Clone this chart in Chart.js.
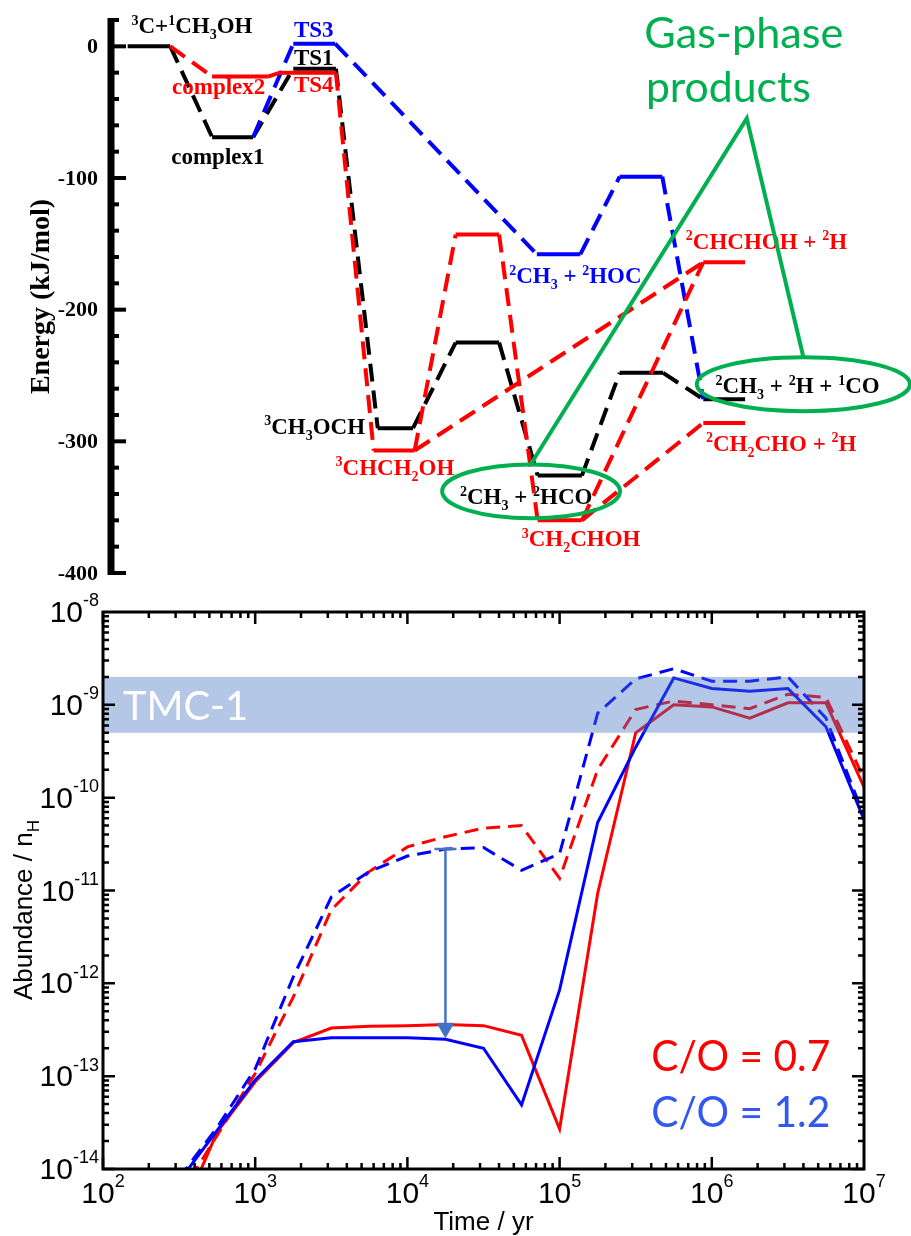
<!DOCTYPE html>
<html>
<head>
<meta charset="utf-8">
<script src="https://cdn.jsdelivr.net/npm/chart.js@4.4.1/dist/chart.umd.min.js"></script>
<style>
    html, body { margin: 0; padding: 0; background: #fff; }
    #wrap { position: relative; width: 911px; height: 1236px; }
    #energyBox { position: absolute; left: 0; top: 0; width: 911px; height: 590px; }
    #abundBox { position: absolute; left: 0; top: 590px; width: 911px; height: 646px; }
</style>
</head>
<body>
<div id="wrap">
    <div id="energyBox"><canvas id="energyChart"></canvas></div>
    <div id="abundBox"><canvas id="abundChart"></canvas></div>
</div>
<script>
// ---------- Energy profile (reaction coordinate slot, energy in kJ/mol) ----------
const blackPathCoord = [-0.26, 0.26, 0.77, 1.27, 1.76, 2.28, 2.79, 3.22, 3.74, 4.27, 4.74, 5.28, 5.74, 6.27, 6.76, 7.27];
const blackPathEnergy = [0, 0, -69, -69, -17, -17, -290, -290, -225, -225, -326, -326, -248, -248, -268, -268];
const bluePathCoord = [1.27, 1.76, 2.27, 4.73, 5.26, 5.74, 6.26, 6.76];
const bluePathEnergy = [-69, 2, 2, -158, -158, -99, -99, -268];
const redPathCoord = [0.26, 0.77, 1.45, 1.60, 2.28, 2.74, 3.24, 3.74, 4.27, 4.74, 5.28, 6.76, 7.27];
const redPathEnergy = [0, -23, -23, -20, -20, -307, -307, -143, -143, -360, -360, -164, -164];
const redBranch1Coord = [3.24, 6.76];
const redBranch1Energy = [-307, -164];
const redBranch2Coord = [5.28, 6.76, 7.27];
const redBranch2Energy = [-360, -286, -286];
const energyTicks = [0, -100, -200, -300, -400];

const stateNames = ['^{3}C+^{1}CH_{3}OH', 'complex1', 'complex2', 'TS1', 'TS3', 'TS4',
    '^{3}CH_{3}OCH', '^{3}CHCH_{2}OH', '^{2}CH_{3} + ^{2}HOC', '^{2}CH_{3} + ^{2}HCO',
    '^{3}CH_{2}CHOH', '^{2}CHCHOH + ^{2}H', '^{2}CH_{3} + ^{2}H + ^{1}CO', '^{2}CH_{2}CHO + ^{2}H'];

// ---------- Abundance vs time ----------
const timeYr = [316, 562, 1000, 1778, 3162, 5623, 10000, 17783, 31623, 56234, 100000,
    177828, 316228, 562341, 1000000, 1778279, 3162278, 5623413, 10000000];
const co07Solid = [2.8e-15, 2.5e-14, 8.7e-14, 2.3e-13, 3.3e-13, 3.45e-13, 3.5e-13, 3.6e-13, 3.5e-13, 2.75e-13,
    2.7e-14, 9.3e-12, 5.0e-10, 1.0e-9, 9.5e-10, 7.2e-10, 1.05e-9, 1.05e-9, 1.3e-10];
const co12Solid = [7.4e-15, 2.6e-14, 9.1e-14, 2.35e-13, 2.6e-13, 2.6e-13, 2.6e-13, 2.5e-13, 2.0e-13, 4.9e-14,
    8.5e-13, 5.4e-11, 3.5e-10, 1.95e-9, 1.5e-9, 1.4e-9, 1.5e-9, 5.8e-10, 5.8e-11];
const co07Dashed = [5e-15, 2.3e-14, 1.07e-13, 7.1e-13, 6.2e-12, 1.6e-11, 2.95e-11, 3.8e-11, 4.7e-11, 5.0e-11,
    1.35e-11, 2.0e-10, 8.9e-10, 1.1e-9, 1.0e-9, 9.1e-10, 1.3e-9, 1.2e-9, 1.6e-10];
const co12Dashed = [8e-15, 2.8e-14, 1.2e-13, 1.17e-12, 8.5e-12, 1.6e-11, 2.35e-11, 2.8e-11, 2.9e-11, 1.65e-11,
    2.5e-11, 8.1e-10, 1.9e-9, 2.45e-9, 1.8e-9, 1.8e-9, 2.0e-9, 7.2e-10, 6.3e-11];
const arrowTime = [17783, 17783];
const arrowAbund = [2.8e-11, 3.3e-13];
const tmcRange = [5e-10, 2e-9];
const timeTicks = [1e2, 1e3, 1e4, 1e5, 1e6, 1e7];
const abundTicks = [1e-14, 1e-13, 1e-12, 1e-11, 1e-10, 1e-9, 1e-8];
const ratioLabels = ['C/O = 0.7', 'C/O = 1.2'];

// ---------- placement / style ----------
const RED = '#FF0000', BLUE = '#0000FF', BLACK = '#000000', GREEN = '#00B050';
const SERIF = '"Liberation Serif", "Times New Roman", serif';
const SANS = '"Liberation Sans", Arial, sans-serif';
const CAL = 'Lato, "Open Sans", sans-serif';

// label anchors in (slot, kJ/mol) – centre x, baseline y
const stateLabelAt = [
    [0.524, 9.9, BLACK], [0.84, -89.6, BLACK], [0.85, -36.4, RED], [2.01, -14.4, BLACK],
    [2.01, 6.8, BLUE], [2.01, -34.9, RED], [2.02, -294.6, BLACK], [3.0, -325.7, RED],
    [5.2, -180, BLUE], [4.6, -347.8, BLACK], [5.27, -379.7, RED], [7.53, -154, RED],
    [7.91, -263.5, BLACK], [7.71, -307.5, RED]
];
const gasApex = [7.29, -54.7];
const gasLeftEnd = [4.65, -318];
const gasRightEnd = [7.98, -236];
const gasEllipses = [[4.66, -338, 1.085, 20.5], [7.98, -256.6, 1.30, 20.5]];

function toXY(xs, ys) {
    return xs.map((v, i) => ({ x: v, y: ys[i] }));
}

function parseRich(str) {
    const runs = [];
    const re = /([\^_])\{([^}]*)\}|([^\^_]+)/g;
    let m;
    while ((m = re.exec(str))) {
        if (m[3]) runs.push({ t: m[3], k: 0 });
        else runs.push({ t: m[2], k: m[1] === '^' ? 1 : -1 });
    }
    return runs;
}

// draws text with ^{sup} and _{sub}
function drawRich(ctx, str, x, y, o) {
    const runs = parseRich(str);
    const fontFor = k => `${o.weight} ${k ? Math.round(o.size * o.small) : o.size}px ${o.family}`;
    let w = 0;
    runs.forEach(r => { ctx.font = fontFor(r.k); r.w = ctx.measureText(r.t).width; w += r.w; });
    let cx = o.align === 'center' ? x - w / 2 : o.align === 'right' ? x - w : x;
    ctx.fillStyle = o.color;
    ctx.textAlign = 'left';
    ctx.textBaseline = 'alphabetic';
    runs.forEach(r => {
        ctx.font = fontFor(r.k);
        const dy = r.k === 1 ? -o.size * o.rise : r.k === -1 ? o.size * o.drop : 0;
        ctx.fillText(r.t, cx, y + dy);
        cx += r.w;
    });
}

function drawFitted(ctx, text, x, y, width, font, color) {
    ctx.font = font;
    const w = ctx.measureText(text).width;
    ctx.save();
    ctx.translate(x, y);
    ctx.scale(width / w, 1);
    ctx.fillStyle = color;
    ctx.textAlign = 'left';
    ctx.textBaseline = 'alphabetic';
    ctx.fillText(text, 0, 0);
    ctx.restore();
}

// ---------- top: energy diagram ----------
const energyDecor = {
    id: 'energyDecor',
    afterDatasetsDraw(chart) {
        const { ctx, chartArea, scales: { x, y } } = chart;
        const ax = chartArea.left;
        ctx.save();

        // axis + inward ticks
        ctx.strokeStyle = BLACK;
        ctx.lineWidth = 7;
        ctx.beginPath();
        ctx.moveTo(ax, y.getPixelForValue(y.max) - 2);
        ctx.lineTo(ax, y.getPixelForValue(y.min) + 2);
        ctx.stroke();
        ctx.lineWidth = 4;
        for (let v = y.max; v >= y.min; v -= 20) {
            const py = y.getPixelForValue(v);
            const len = v % 100 === 0 ? 15 : 8;
            ctx.beginPath();
            ctx.moveTo(ax, py);
            ctx.lineTo(ax + len, py);
            ctx.stroke();
        }
        ctx.font = `bold 22px ${SERIF}`;
        ctx.fillStyle = BLACK;
        ctx.textAlign = 'right';
        ctx.textBaseline = 'middle';
        energyTicks.forEach(v => ctx.fillText(String(v), ax - 13, y.getPixelForValue(v) + 1));

        // axis title
        ctx.save();
        ctx.translate(ax - 69, y.getPixelForValue(-190));
        ctx.rotate(-Math.PI / 2);
        ctx.font = `bold 28px ${SERIF}`;
        ctx.textAlign = 'center';
        ctx.textBaseline = 'middle';
        ctx.fillText('Energy (kJ/mol)', 0, 0);
        ctx.restore();

        // state labels
        stateNames.forEach((name, i) => {
            const [sx, se, col] = stateLabelAt[i];
            drawRich(ctx, name, x.getPixelForValue(sx), y.getPixelForValue(se), {
                weight: 'bold', size: 23, small: 0.62, rise: 0.38, drop: 0.24,
                family: SERIF, color: col, align: 'center'
            });
        });

        // gas-phase products annotation
        ctx.strokeStyle = GREEN;
        ctx.lineWidth = 4;
        ctx.lineJoin = 'miter';
        ctx.beginPath();
        ctx.moveTo(x.getPixelForValue(gasLeftEnd[0]), y.getPixelForValue(gasLeftEnd[1]));
        ctx.lineTo(x.getPixelForValue(gasApex[0]), y.getPixelForValue(gasApex[1]));
        ctx.lineTo(x.getPixelForValue(gasRightEnd[0]), y.getPixelForValue(gasRightEnd[1]));
        ctx.stroke();
        gasEllipses.forEach(([cx, ce, rx, re]) => {
            const px = x.getPixelForValue(cx), py = y.getPixelForValue(ce);
            const rpx = Math.abs(x.getPixelForValue(cx + rx) - px);
            const rpy = Math.abs(y.getPixelForValue(ce + re) - py);
            ctx.beginPath();
            ctx.ellipse(px, py, rpx, rpy, 0, 0, Math.PI * 2);
            ctx.stroke();
        });
        drawFitted(ctx, 'Gas-phase', x.getPixelForValue(6.04), y.getPixelForValue(-1.5), 199, `42px ${CAL}`, GREEN);
        drawFitted(ctx, 'products', x.getPixelForValue(6.06), y.getPixelForValue(-42.5), 165, `42px ${CAL}`, GREEN);
        ctx.restore();
    }
};

const levelSegment = {
    borderDash: c => (c.p0.parsed.y === c.p1.parsed.y ? [] : [18, 9])
};

function energyDataset(xs, es, color) {
    return {
        data: toXY(xs, es), showLine: true, borderColor: color, borderWidth: 4,
        pointRadius: 0, segment: levelSegment, borderCapStyle: 'butt'
    };
}

new Chart(document.getElementById('energyChart'), {
    type: 'scatter',
    data: {
        datasets: [
            energyDataset(redPathCoord, redPathEnergy, RED),
            energyDataset(redBranch1Coord, redBranch1Energy, RED),
            energyDataset(redBranch2Coord, redBranch2Energy, RED),
            energyDataset(bluePathCoord, bluePathEnergy, BLUE),
            energyDataset(blackPathCoord, blackPathEnergy, BLACK)
        ]
    },
    options: {
        animation: false,
        responsive: true,
        maintainAspectRatio: false,
        layout: { padding: { left: 111, right: 10, top: 20, bottom: 17 } },
        plugins: { legend: { display: false }, tooltip: { enabled: false } },
        scales: {
            x: { type: 'linear', min: -0.463, max: 9.171, display: false },
            y: { type: 'linear', min: -400, max: 20, display: false }
        }
    },
    plugins: [energyDecor]
});

// ---------- bottom: abundance ----------
const abundDecor = {
    id: 'abundDecor',
    afterDatasetsDraw(chart) {
        const { ctx, chartArea: a, scales: { x, y } } = chart;
        ctx.save();

        // TMC-1 observed band (drawn over the curves, semi-transparent)
        const yTop = y.getPixelForValue(tmcRange[1]);
        const yBot = y.getPixelForValue(tmcRange[0]);
        ctx.fillStyle = 'rgba(68, 114, 196, 0.4)';
        ctx.fillRect(a.left, yTop, a.right - a.left, yBot - yTop);
        drawFitted(ctx, 'TMC-1', a.left + 20, (yTop + yBot) / 2 + 15, 125, `40px ${CAL}`, '#FFFFFF');

        // frame
        ctx.strokeStyle = BLACK;
        ctx.lineWidth = 3;
        ctx.strokeRect(a.left, a.top, a.right - a.left, a.bottom - a.top);

        // inward ticks on all sides
        ctx.lineWidth = 2.5;
        timeTicks.slice(0, -1).forEach(d => {
            for (let m = 1; m <= 9; m++) {
                const px = x.getPixelForValue(d * m);
                const len = m === 1 ? 12 : 6;
                ctx.beginPath();
                ctx.moveTo(px, a.bottom); ctx.lineTo(px, a.bottom - len);
                ctx.moveTo(px, a.top); ctx.lineTo(px, a.top + len);
                ctx.stroke();
            }
        });
        abundTicks.slice(0, -1).forEach(d => {
            for (let m = 1; m <= 9; m++) {
                const py = y.getPixelForValue(d * m);
                const len = m === 1 ? 12 : 6;
                ctx.beginPath();
                ctx.moveTo(a.left, py); ctx.lineTo(a.left + len, py);
                ctx.moveTo(a.right, py); ctx.lineTo(a.right - len, py);
                ctx.stroke();
            }
        });

        // tick labels
        const tickFont = { weight: 'normal', size: 30, small: 0.6, rise: 0.52, drop: 0.2, family: SANS, color: BLACK };
        timeTicks.forEach(v => {
            drawRich(ctx, '10^{' + Math.round(Math.log10(v)) + '}', x.getPixelForValue(v), a.bottom + 34,
                Object.assign({}, tickFont, { align: 'center' }));
        });
        abundTicks.forEach(v => {
            drawRich(ctx, '10^{-' + Math.round(-Math.log10(v)) + '}', a.left - 4, y.getPixelForValue(v) + 10,
                Object.assign({}, tickFont, { align: 'right' }));
        });

        // axis titles
        const titleFont = { weight: 'normal', size: 26, small: 0.65, rise: 0.4, drop: 0.25, family: SANS, color: BLACK };
        drawRich(ctx, 'Time / yr', (a.left + a.right) / 2, a.bottom + 61, Object.assign({}, titleFont, { align: 'center' }));
        ctx.save();
        ctx.translate(a.left - 71, a.top + 298);
        ctx.rotate(-Math.PI / 2);
        drawRich(ctx, 'Abundance / n_{H}', 0, 0, Object.assign({}, titleFont, { align: 'center' }));
        ctx.restore();

        // ratio legend
        const legendColors = [RED, '#3158F0'];
        const legendAbund = [1.15e-13, 2.8e-14];
        ratioLabels.forEach((t, i) => {
            drawFitted(ctx, t, x.getPixelForValue(4e5), y.getPixelForValue(legendAbund[i]), 179, `42px ${CAL}`, legendColors[i]);
        });
        ctx.restore();
    }
};

function abundDataset(ys, color, dashed) {
    return {
        data: toXY(timeYr, ys), showLine: true, borderColor: color, borderWidth: 3,
        borderDash: dashed ? [14, 8] : [], pointRadius: 0, borderJoinStyle: 'miter'
    };
}

new Chart(document.getElementById('abundChart'), {
    type: 'scatter',
    data: {
        datasets: [
            {
                data: toXY(arrowTime, arrowAbund), showLine: true, borderColor: '#4472C4', borderWidth: 2.5,
                pointStyle: ['line', 'triangle'], pointRotation: [0, 180], pointRadius: [11, 9.5],
                pointBorderWidth: [2.5, 1], pointBackgroundColor: '#4472C4', pointBorderColor: '#4472C4'
            },
            abundDataset(co12Solid, BLUE, false),
            abundDataset(co07Solid, RED, false),
            abundDataset(co12Dashed, BLUE, true),
            abundDataset(co07Dashed, RED, true)
        ]
    },
    options: {
        animation: false,
        responsive: true,
        maintainAspectRatio: false,
        layout: { padding: { left: 103, right: 47, top: 22, bottom: 67 } },
        plugins: { legend: { display: false }, tooltip: { enabled: false } },
        scales: {
            x: { type: 'logarithmic', min: 1e2, max: 1e7, display: false },
            y: { type: 'logarithmic', min: 1e-14, max: 1e-8, display: false }
        }
    },
    plugins: [abundDecor]
});
</script>
</body>
</html>
